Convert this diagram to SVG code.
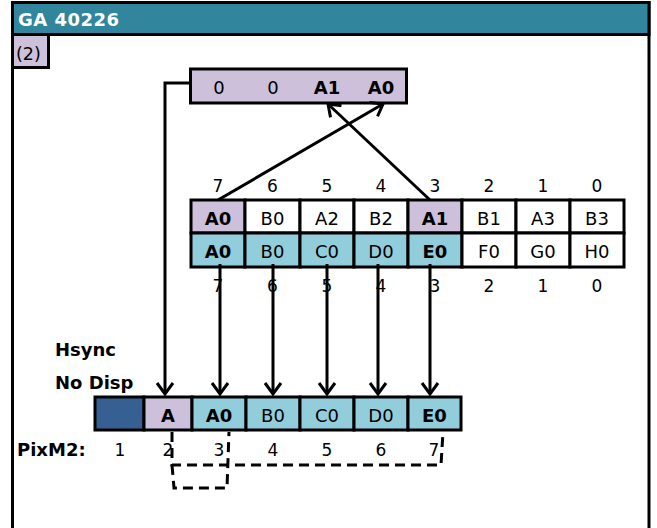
<svg xmlns="http://www.w3.org/2000/svg" width="657" height="528" viewBox="0 0 657 528">
<style>
text{font-family:"DejaVu Sans","Verdana",sans-serif;fill:#000}
.t{font-size:18px;text-anchor:middle}
.b{font-weight:bold}
.n{font-size:17px;text-anchor:middle}
.lb{font-size:18px;font-weight:bold}
.cell{stroke:#000;stroke-width:3}
.lav{fill:#CCC0DA}
.blu{fill:#92CDDC}
.wht{fill:#FFFFFF}
.dk{fill:#376092}
.ln{stroke:#000;stroke-width:3;fill:none}
.dash{stroke:#000;stroke-width:3;fill:none;stroke-dasharray:10 6}
</style>
<defs>
<marker id="ah" markerUnits="userSpaceOnUse" markerWidth="30" markerHeight="30" refX="0" refY="0" viewBox="-15 -15 30 30" orient="auto" overflow="visible">
<path d="M-11,-8 L0,0 L-11,8" fill="none" stroke="#000" stroke-width="3"/>
</marker>
</defs>
<rect width="657" height="528" fill="#FFFFFF"/>
<g id="frame">
<rect x="12.5" y="2.5" width="636.5" height="560" fill="none" stroke="#000" stroke-width="3"/>
<rect x="12.5" y="2.5" width="636.5" height="32" fill="#31859C" stroke="#000" stroke-width="3"/>
<text x="18" y="26" style="font-size:18px;font-weight:bold;fill:#FFFFFF;letter-spacing:0.5px">GA 40226</text>
</g>
<g id="step">
<rect x="12.5" y="34.5" width="36" height="33" class="lav" stroke="#000" stroke-width="3"/>
<text x="16" y="60" style="font-size:17.5px">(2)</text>
</g>
<g id="top-box">
<rect x="190.5" y="69" width="216" height="34" class="lav cell"/>
<text class="t" x="219" y="94">0</text>
<text class="t" x="273" y="94">0</text>
<text class="t b" x="327" y="94">A1</text>
<text class="t b" x="381" y="94">A0</text>
</g>
<g id="table">
<rect x="191" y="200" width="54" height="33" class="cell lav"/>
<rect x="245" y="200" width="55" height="33" class="cell wht"/>
<rect x="300" y="200" width="54" height="33" class="cell wht"/>
<rect x="354" y="200" width="54" height="33" class="cell wht"/>
<rect x="408" y="200" width="54" height="33" class="cell lav"/>
<rect x="462" y="200" width="54" height="33" class="cell wht"/>
<rect x="516" y="200" width="54" height="33" class="cell wht"/>
<rect x="570" y="200" width="54" height="33" class="cell wht"/>
<rect x="191" y="233" width="54" height="34" class="cell blu"/>
<rect x="245" y="233" width="55" height="34" class="cell blu"/>
<rect x="300" y="233" width="54" height="34" class="cell blu"/>
<rect x="354" y="233" width="54" height="34" class="cell blu"/>
<rect x="408" y="233" width="54" height="34" class="cell blu"/>
<rect x="462" y="233" width="54" height="34" class="cell wht"/>
<rect x="516" y="233" width="54" height="34" class="cell wht"/>
<rect x="570" y="233" width="54" height="34" class="cell wht"/>
<text class="t b" x="218" y="225">A0</text>
<text class="t" x="272.5" y="225">B0</text>
<text class="t" x="327" y="225">A2</text>
<text class="t" x="381" y="225">B2</text>
<text class="t b" x="435" y="225">A1</text>
<text class="t" x="489" y="225">B1</text>
<text class="t" x="543" y="225">A3</text>
<text class="t" x="597" y="225">B3</text>
<text class="t b" x="218" y="258">A0</text>
<text class="t" x="272.5" y="258">B0</text>
<text class="t" x="327" y="258">C0</text>
<text class="t" x="381" y="258">D0</text>
<text class="t b" x="435" y="258">E0</text>
<text class="t" x="489" y="258">F0</text>
<text class="t" x="543" y="258">G0</text>
<text class="t" x="597" y="258">H0</text>
<text class="n" x="218" y="192">7</text>
<text class="n" x="272.5" y="192">6</text>
<text class="n" x="327" y="192">5</text>
<text class="n" x="381" y="192">4</text>
<text class="n" x="435" y="192">3</text>
<text class="n" x="489" y="192">2</text>
<text class="n" x="543" y="192">1</text>
<text class="n" x="597" y="192">0</text>
<text class="n" x="218" y="292">7</text>
<text class="n" x="272.5" y="292">6</text>
<text class="n" x="327" y="292">5</text>
<text class="n" x="381" y="292">4</text>
<text class="n" x="435" y="292">3</text>
<text class="n" x="489" y="292">2</text>
<text class="n" x="543" y="292">1</text>
<text class="n" x="597" y="292">0</text>
</g>
<g id="labels">
<text class="lb" x="55" y="356">Hsync</text>
<text class="lb" x="55" y="389">No Disp</text>
<text class="lb" x="17" y="456">PixM2:</text>
<text class="n" x="120" y="456">1</text>
<text class="n" x="168" y="456">2</text>
<text class="n" x="219" y="456">3</text>
<text class="n" x="273" y="456">4</text>
<text class="n" x="327" y="456">5</text>
<text class="n" x="381" y="456">6</text>
<text class="n" x="434" y="456">7</text>
</g>
<g id="output-row">
<rect x="95" y="397" width="49" height="33" class="cell dk"/>
<rect x="144" y="397" width="48" height="33" class="cell lav"/>
<rect x="192" y="397" width="54" height="33" class="cell blu"/>
<rect x="246" y="397" width="54" height="33" class="cell blu"/>
<rect x="300" y="397" width="54" height="33" class="cell blu"/>
<rect x="354" y="397" width="54" height="33" class="cell blu"/>
<rect x="408" y="397" width="53" height="33" class="cell blu"/>
<text class="t b" x="168" y="422">A</text>
<text class="t b" x="219" y="422">A0</text>
<text class="t" x="273" y="422">B0</text>
<text class="t" x="327" y="422">C0</text>
<text class="t" x="381" y="422">D0</text>
<text class="t b" x="434.5" y="422">E0</text>
</g>
<g id="connectors">
<line class="ln" x1="218" y1="200" x2="383" y2="104" marker-end="url(#ah)"/>
<line class="ln" x1="430" y1="200" x2="328" y2="104" marker-end="url(#ah)"/>
<path class="ln" d="M190,83 L165,83 L165,394" marker-end="url(#ah)"/>
<line class="ln" x1="220" y1="264" x2="220" y2="394" marker-end="url(#ah)"/>
<line class="ln" x1="273" y1="264" x2="273" y2="394" marker-end="url(#ah)"/>
<line class="ln" x1="327" y1="264" x2="327" y2="394" marker-end="url(#ah)"/>
<line class="ln" x1="378" y1="264" x2="378" y2="394" marker-end="url(#ah)"/>
<line class="ln" x1="430" y1="264" x2="430" y2="394" marker-end="url(#ah)"/>
<path class="dash" d="M172,432 L172,465 L441,465 L443,432"/>
<path class="dash" d="M172,465 L174,488 L227,488 L229,432"/>
</g>
</svg>
